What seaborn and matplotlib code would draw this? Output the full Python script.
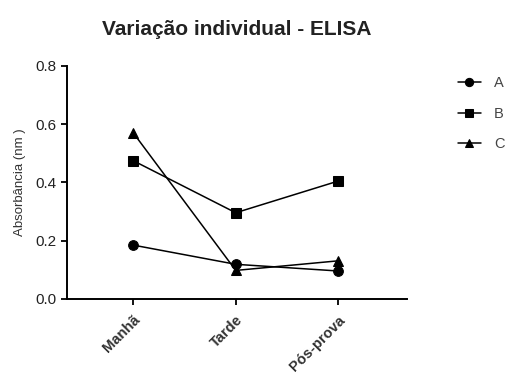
import matplotlib
matplotlib.use("Agg")
import matplotlib.pyplot as plt
import seaborn as sns
import pandas as pd

categories = ["Manhã", "Tarde", "Pós-prova"]
series_A = [0.185, 0.119, 0.096]
series_B = [0.475, 0.296, 0.405]
series_C = [0.571, 0.098, 0.131]
series_names = ["A", "B", "C"]
yticks = [0.0, 0.2, 0.4, 0.6, 0.8]

sns.set_theme(style="ticks")
plt.rcParams['font.family'] = ['Liberation Sans', 'DejaVu Sans']

rows = []
for name, vals in zip(series_names, [series_A, series_B, series_C]):
    for i, (c, v) in enumerate(zip(categories, vals)):
        rows.append({"idx": i, "cat": c, "val": v, "grp": name})
df = pd.DataFrame(rows)

fig = plt.figure(figsize=(5.07, 3.77), dpi=100)
ax = fig.add_axes([0.132, 0.207, 0.671, 0.618])

sns.lineplot(data=df, x="idx", y="val", hue="grp", style="grp",
             palette={"A": "black", "B": "black", "C": "black"},
             markers={"A": "o", "B": "s", "C": "^"},
             dashes=False, markersize=7, linewidth=1.1,
             markeredgecolor="black", ax=ax, legend=True)

ax.set_xlim(-0.645, 2.67)
ax.set_ylim(0, 0.8)
ax.set_xticks(range(len(categories)))
ax.set_xticklabels(categories, rotation=45, ha="right", rotation_mode="anchor",
                   fontsize=10.5, fontweight="bold", color="#333333")
ax.set_yticks(yticks)
ax.set_yticklabels([f"{t:.1f}" for t in yticks], fontsize=11, color="#222222")
ax.tick_params(axis="both", direction="out", length=4, width=1.3, color="black")
ax.tick_params(axis="x", pad=6)
ax.set_xlabel("")
ax.set_ylabel("Absorbância (nm )", fontsize=9.5, color="#333333", labelpad=7)
for s in ["top", "right"]:
    ax.spines[s].set_visible(False)
for s in ["left", "bottom"]:
    ax.spines[s].set_linewidth(1.4)
    ax.spines[s].set_color("black")

ax.set_title("Variação individual - ELISA", fontsize=15, fontweight="bold",
             color="#222222", pad=22)

leg = ax.legend(loc="upper left", bbox_to_anchor=(1.11, 1.012), frameon=False,
                fontsize=10.5, handlelength=1.6, labelspacing=1.13, handletextpad=0.9,
                markerscale=0.85)
for t in leg.get_texts():
    t.set_color("#444444")

fig.savefig("out.png", dpi=100)
